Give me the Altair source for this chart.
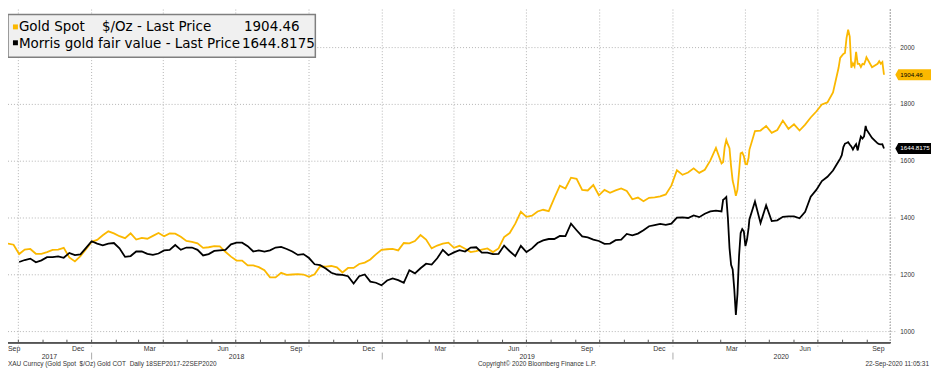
import altair as alt
import pandas as pd

# ---------------- data ----------------
week_start = "2017-09-18"   # weekly observations, every 7 days from here

gold_weekly = [
    1310, 1306, 1273, 1289, 1291, 1274, 1274, 1280, 1288, 1289,
    1295, 1261, 1247, 1266, 1290, 1316, 1323, 1339, 1353, 1346,
    1336, 1329, 1346, 1324, 1330, 1327, 1337, 1347, 1336, 1346,
    1345, 1334, 1319, 1316, 1311, 1295, 1297, 1301, 1300, 1281,
    1264, 1250, 1250, 1233, 1233, 1227, 1216, 1191, 1191, 1207,
    1200, 1201, 1202, 1201, 1193, 1202, 1230, 1229, 1231, 1226,
    1208, 1224, 1224, 1238, 1243, 1254, 1272, 1288, 1290, 1291,
    1286, 1312, 1311, 1319, 1340, 1324, 1293, 1303, 1310, 1313,
    1295, 1302, 1292, 1280, 1283, 1289, 1293, 1280, 1293, 1333,
    1347, 1380, 1422, 1404, 1408, 1423, 1429, 1424, 1470, 1514,
    1504, 1542, 1538, 1499, 1497, 1516, 1480, 1499, 1489, 1497,
    1504, 1495, 1466, 1472, 1459, 1471, 1473, 1476, 1483, 1514,
    1568, 1552, 1560, 1575, 1559, 1570, 1603, 1647, 1594, 1671,
    1531, 1562, 1618, 1640, 1706, 1708, 1724, 1700, 1710, 1743,
    1714, 1730, 1708, 1729, 1754, 1775, 1800, 1807, 1842, 1929,
    1981, 2039, 1985, 1932, 1966, 1931, 1943, 1904,
]

fair_weekly = [
    None, None, 1245, 1252, 1257, 1244, 1251, 1262, 1262, 1265,
    1260, 1277, 1269, 1272, 1295, 1318, 1310, 1304, 1310, 1312,
    1293, 1263, 1266, 1282, 1282, 1274, 1270, 1275, 1286, 1288,
    1305, 1288, 1296, 1296, 1288, 1268, 1273, 1284, 1286, 1288,
    1307, 1313, 1313, 1301, 1282, 1286, 1282, 1286, 1296, 1298,
    1291, 1282, 1270, 1273, 1259, 1237, 1234, 1222, 1207, 1201,
    1200, 1195, 1169, 1195, 1201, 1176, 1172, 1163, 1180, 1187,
    1181, 1172, 1216, 1205, 1223, 1239, 1236, 1258, 1288, 1269,
    1279, 1287, 1282, 1296, 1297, 1278, 1278, 1273, 1274, 1303,
    1283, 1266, 1302, 1280, 1293, 1312, 1321, 1326, 1326, 1337,
    1336, 1380, 1357, 1335, 1332, 1324, 1319, 1309, 1310, 1322,
    1324, 1344, 1339, 1345, 1357, 1371, 1375, 1379, 1376, 1380,
    1401, 1402, 1400, 1409, 1403, 1415, 1423, 1426, 1423, 1474,
    1219, 1230, 1353, 1395, 1458, 1382, 1445, 1389, 1392, 1404,
    1406, 1406, 1399, 1422, 1475, 1499, 1530, 1545, 1567, 1600,
    1662, 1659, 1660, 1687, 1712, 1682, 1663, 1645,
]

# denser readings where the lines move fast (replace the weekly points there)
dense_windows = [("2020-03-02", "2020-04-05"), ("2020-07-27", "2020-08-30"),
                 ("2020-09-14", "2020-09-22")]
dense_dates = [
    "2020-03-02", "2020-03-04", "2020-03-06", "2020-03-08", "2020-03-10", "2020-03-12",
    "2020-03-14", "2020-03-16", "2020-03-18", "2020-03-20", "2020-03-22", "2020-03-24",
    "2020-03-26", "2020-03-28", "2020-03-30", "2020-04-01", "2020-04-03", "2020-04-05",
    "2020-07-27", "2020-07-29", "2020-07-31", "2020-08-02", "2020-08-04", "2020-08-06",
    "2020-08-08", "2020-08-10", "2020-08-12", "2020-08-14", "2020-08-16", "2020-08-18",
    "2020-08-20", "2020-08-22", "2020-08-24", "2020-08-26", "2020-08-28", "2020-08-30",
    "2020-09-14", "2020-09-16", "2020-09-18", "2020-09-20", "2020-09-22",
]
dense_gold = [
    1592, 1597, 1650, 1675, 1659, 1646, 1582, 1531, 1508, 1478, 1500, 1562,
    1628, 1631, 1618, 1590, 1589, 1612,
    1929, 1964, 1971, 1978, 1981, 2034, 2063, 2039, 1929, 1945, 1934, 1985,
    1943, 1943, 1932, 1943, 1941, 1956,
    1943, 1952, 1943, 1949, 1904.46,
]
dense_fair = [
    1423, 1464, 1468, 1474, 1400, 1295, 1235, 1219, 1150, 1059, 1132, 1266,
    1347, 1361, 1353, 1301, 1324, 1365,
    1600, 1609, 1621, 1650, 1662, 1664, 1667, 1659, 1652, 1641, 1652, 1660,
    1638, 1665, 1687, 1680, 1687, 1724,
    1663, 1660, 1659, 1660, 1644.8175,
]

last_labels = ["1904.46", "1644.8175"]
last_values = [1904.46, 1644.8175]
y_ticks = [1000, 1200, 1400, 1600, 1800, 2000]
quarter_starts = ["2017-10-01", "2018-01-01", "2018-04-01", "2018-07-01", "2018-10-01",
                  "2019-01-01", "2019-04-01", "2019-07-01", "2019-10-01", "2020-01-01",
                  "2020-04-01", "2020-07-01"]
month_label_dates = ["2017-12-15", "2018-03-15", "2018-06-15", "2018-09-15",
                     "2018-12-15", "2019-03-15", "2019-06-15", "2019-09-15", "2019-12-15",
                     "2020-03-15", "2020-06-15", "2020-09-15"]
month_label_text = ["Dec", "Mar", "Jun", "Sep", "Dec", "Mar", "Jun", "Sep", "Dec",
                    "Mar", "Jun", "Sep"]
year_label_dates = ["2017-11-09", "2018-07-02", "2019-07-02", "2020-05-16"]
year_label_text = ["2017", "2018", "2019", "2020"]
year_breaks = ["2018-01-01", "2019-01-01", "2020-01-01"]

GOLD = "#FBB800"
GRID = "#b4b4b4"
SMALL_FONT = "Liberation Sans"
W, H = 890, 336

# ---------------- build table ----------------
wk = pd.DataFrame({
    "date": pd.date_range(week_start, periods=len(gold_weekly), freq="7D"),
    "gold": gold_weekly,
    "fair": fair_weekly,
})
mask = pd.Series(False, index=wk.index)
for a, b in dense_windows:
    mask |= (wk["date"] >= pd.Timestamp(a)) & (wk["date"] <= pd.Timestamp(b))
wk = wk[~mask]
dn = pd.DataFrame({"date": pd.to_datetime(dense_dates), "gold": dense_gold, "fair": dense_fair})
df = pd.concat([wk, dn]).sort_values("date").reset_index(drop=True)
df["date"] = df["date"].dt.strftime("%Y-%m-%d")

x_scale = alt.Scale(domain=[alt.DateTime(year=2017, month=9, date=18),
                            alt.DateTime(year=2020, month=9, date=30)])
y_scale = alt.Scale(domain=[961, 2134], nice=False, zero=False)


def X(field):
    return alt.X(field, scale=x_scale, axis=None)


def Y(field):
    return alt.Y(field, scale=y_scale, axis=None)


# ---------------- grid and axes (drawn as marks) ----------------
yt = pd.DataFrame({"v": y_ticks, "t": [str(v) for v in y_ticks]})
h_grid = alt.Chart(yt).mark_rule(color=GRID, strokeDash=[1, 2], strokeWidth=1).encode(
    y=Y("v:Q"), x=alt.value(0), x2=alt.value(W + 7))
y_labels = alt.Chart(yt).mark_text(font=SMALL_FONT, fontSize=6.5, color="#333333",
                                   align="left", baseline="middle").encode(
    y=Y("v:Q"), x=alt.value(W + 10), text="t:N")
right_line = alt.Chart(yt).mark_rule(color=GRID, strokeDash=[1, 2], strokeWidth=1).encode(
    x=alt.value(W), y=alt.value(0), y2=alt.value(H))

qs = pd.DataFrame({"d": quarter_starts})
v_grid = alt.Chart(qs).mark_rule(color=GRID, strokeDash=[1, 2], strokeWidth=1).encode(
    x=X("d:T"), y=alt.value(0), y2=alt.value(H + 5))
bottom_line = alt.Chart(qs).mark_rule(color="#555555", strokeWidth=1).encode(
    x=alt.value(0), x2=alt.value(W), y=alt.value(H))

months = pd.DataFrame({"d": pd.date_range("2017-10-01", "2020-09-01", freq="MS").strftime("%Y-%m-%d")})
month_ticks = alt.Chart(months).mark_rule(color="#555555", strokeWidth=1).encode(
    x=X("d:T"), y=alt.value(H - 3), y2=alt.value(H))

ml = pd.DataFrame({"d": month_label_dates, "t": month_label_text})
month_labels = alt.Chart(ml).mark_text(font=SMALL_FONT, fontSize=7, color="#333333",
                                      baseline="middle").encode(
    x=X("d:T"), y=alt.value(H + 6), text="t:N")
first_label = alt.Chart(pd.DataFrame({"t": ["Sep"]})).mark_text(
    font=SMALL_FONT, fontSize=7, color="#333333", align="left", baseline="middle").encode(
    x=alt.value(0), y=alt.value(H + 6), text="t:N")

yl = pd.DataFrame({"d": year_label_dates, "t": year_label_text})
year_labels = alt.Chart(yl).mark_text(font=SMALL_FONT, fontSize=7, color="#333333",
                                     baseline="middle").encode(
    x=X("d:T"), y=alt.value(H + 14), text="t:N")
yb = pd.DataFrame({"d": year_breaks})
year_sep = alt.Chart(yb).mark_rule(color="#aaaaaa", strokeWidth=1).encode(
    x=X("d:T"), y=alt.value(H + 10), y2=alt.value(H + 17))

# ---------------- series ----------------
base = alt.Chart(df)
gold_line = base.mark_line(color=GOLD, strokeWidth=1.8).encode(x=X("date:T"), y=Y("gold:Q"))
fair_line = base.mark_line(color="#000000", strokeWidth=1.8).encode(x=X("date:T"), y=Y("fair:Q"))

# last value tags on the right
tags = pd.DataFrame({"v": last_values, "t": last_labels,
                     "fill": [GOLD, "#000000"], "tc": ["#000000", "#ffffff"]})
tag_shape = "M-1,0 L-0.84,-0.29 L1,-0.29 L1,0.29 L-0.84,0.29 Z"
tag_box = alt.Chart(tags).mark_point(shape=tag_shape, filled=True, opacity=1,
                                     size=1444, strokeWidth=0).encode(
    x=alt.value(W + 24), y=Y("v:Q"), color=alt.Color("fill:N", scale=None))
tag_text = alt.Chart(tags).mark_text(font=SMALL_FONT, fontSize=6.3, align="left",
                                     baseline="middle").encode(
    x=alt.value(W + 10), y=Y("v:Q"), text="t:N", color=alt.Color("tc:N", scale=None))

# ---------------- legend box ----------------
one = pd.DataFrame({"a": [0]})
leg_box = alt.Chart(one).mark_rect(fill="#f0f0f0", stroke="#7f7f7f", strokeWidth=1.5).encode(
    x=alt.value(0), x2=alt.value(310), y=alt.value(5), y2=alt.value(48))
sq_gold = alt.Chart(one).mark_rect(fill=GOLD).encode(
    x=alt.value(5), x2=alt.value(10), y=alt.value(15), y2=alt.value(20))
sq_black = alt.Chart(one).mark_rect(fill="#000000").encode(
    x=alt.value(5), x2=alt.value(10), y=alt.value(31), y2=alt.value(36))


def leg_text(txt, x, y):
    return alt.Chart(pd.DataFrame({"t": [txt]})).mark_text(
        font="DejaVu Sans", fontSize=13.6, color="#000000", align="left",
        baseline="middle").encode(x=alt.value(x), y=alt.value(y), text="t:N")


legend = (leg_box + sq_gold + sq_black
          + leg_text("Gold Spot\u00a0\u00a0\u00a0 $/Oz - Last Price", 11, 18)
          + leg_text(last_labels[0], 238, 18)
          + leg_text("Morris gold fair value - Last Price", 11, 35)
          + leg_text(last_labels[1], 236, 35))


def foot(txt, x, align):
    return alt.Chart(pd.DataFrame({"t": [txt]})).mark_text(
        font=SMALL_FONT, fontSize=6.5, color="#333333", align=align,
        baseline="middle").encode(x=alt.value(x), y=alt.value(H + 22), text="t:N")


footer = (foot("XAU Curncy (Gold Spot\u00a0\u00a0$/Oz) Gold COT\u00a0\u00a0Daily 18SEP2017-22SEP2020", 0, "left")
          + foot("Copyright\u00a9 2020 Bloomberg Finance L.P.", 474, "left")
          + foot("22-Sep-2020 11:05:31", 929, "right"))

chart = alt.layer(
    h_grid, v_grid, right_line, bottom_line, month_ticks, y_labels,
    month_labels, first_label, year_labels, year_sep,
    gold_line, fair_line, tag_box, tag_text, legend, footer,
).properties(
    width=W, height=H,
    autosize=alt.AutoSizeParams(type="none"),
    padding={"left": 0, "top": 0, "right": 41, "bottom": 26},
    background="#ffffff",
).configure_view(strokeWidth=0)

chart.save("out.html", embed_options={"renderer": "svg", "actions": False})
